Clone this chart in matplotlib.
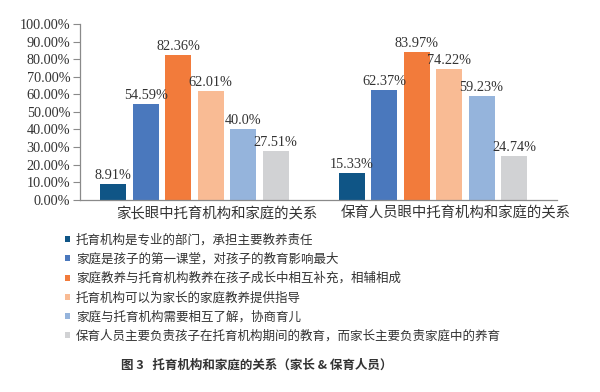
# Grouped bar chart: relationship between childcare institutions and families

import matplotlib

matplotlib.use("Agg")
import matplotlib.pyplot as plt
import numpy as np
from matplotlib.ticker import FuncFormatter

# --------------------------------------------------------------------
# Data
# --------------------------------------------------------------------

groups = ["家长眼中托育机构和家庭的关系", "保育人员眼中托育机构和家庭的关系"]

statements = [
    "托育机构是专业的部门，承担主要教养责任",
    "家庭是孩子的第一课堂，对孩子的教育影响最大",
    "家庭教养与托育机构教养在孩子成长中相互补充，相辅相成",
    "托育机构可以为家长的家庭教养提供指导",
    "家庭与托育机构需要相互了解，协商育儿",
    "保育人员主要负责孩子在托育机构期间的教育，而家长主要负责家庭中的养育",
]

parents = [8.91, 54.59, 82.36, 62.01, 40.0, 27.51]
staff = [15.33, 62.37, 83.97, 74.22, 59.23, 24.74]

value_labels = [
    ["8.91%", "54.59%", "82.36%", "62.01%", "40.0%", "27.51%"],
    ["15.33%", "62.37%", "83.97%", "74.22%", "59.23%", "24.74%"],
]

colors = ["#0f5586", "#4a78bd", "#f27b3b", "#f9bb94", "#95b4dc", "#d1d2d4"]

caption = "图 3   托育机构和家庭的关系（家长 & 保育人员）"

# --------------------------------------------------------------------
# Plot
# --------------------------------------------------------------------

plt.rcParams["font.family"] = ["Noto Sans CJK SC", "DejaVu Sans"]
serif = ["Liberation Serif", "DejaVu Serif"]
text_color = "#333333"

fig = plt.figure(figsize=(6, 3.92), dpi=100)
ax = fig.add_axes([0.1333, 0.4906, 0.795, 0.448])

x = np.arange(len(groups))
width = 0.109
step = 0.136
shift = -0.02

values = np.array([parents, staff])
for k, color in enumerate(colors):
    pos = x + shift + (k - 2.5) * step
    heights = values[:, k]
    bars = ax.bar(pos, heights, width=width, color=color, label=statements[k])
    for b, lab in zip(bars, value_labels):
        ax.text(b.get_x() + b.get_width() / 2, b.get_height() + 1.2, lab[k],
                ha="center", va="bottom", fontsize=10.3, family=serif,
                color=text_color)

ax.set_xlim(-0.5, 1.5)
ax.set_ylim(0, 100)
ax.set_yticks(np.arange(0, 101, 10))
ax.yaxis.set_major_formatter(FuncFormatter(lambda v, _: f"{v:.2f}%"))
for t in ax.get_yticklabels():
    t.set_family(serif)
    t.set_fontsize(10.3)
    t.set_color(text_color)

ax.set_xticks(x + 0.075)
ax.set_xticklabels(groups, fontsize=10.4, color=text_color)
ax.tick_params(axis="x", length=0, pad=5)
ax.tick_params(axis="y", length=5, width=0.8, color="#8a8a8a", pad=2)

for side in ["top", "right"]:
    ax.spines[side].set_visible(False)
for side in ["left", "bottom"]:
    ax.spines[side].set_color("#8a8a8a")
    ax.spines[side].set_linewidth(0.9)

leg = fig.legend(loc="upper left", bbox_to_anchor=(0.108, 0.404),
                 frameon=False, fontsize=9, handlelength=0.38,
                 handleheight=0.38, handletextpad=0.5, labelspacing=0.5,
                 borderaxespad=0, borderpad=0)
for t in leg.get_texts():
    t.set_color(text_color)

fig.text(0.428, 0.069, caption, ha="center", va="center", fontsize=9,
         fontweight="bold", color=text_color)

fig.savefig("out.png", dpi=100, facecolor="white")
